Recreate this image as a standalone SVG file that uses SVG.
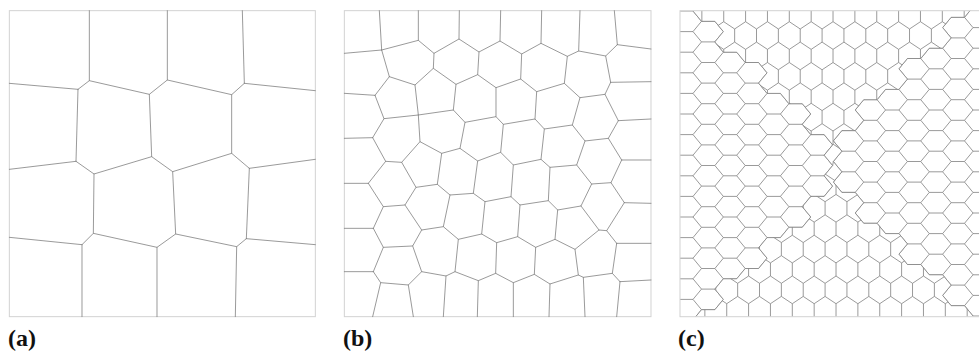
<svg xmlns="http://www.w3.org/2000/svg" width="979" height="354" viewBox="0 0 979 354">
<defs>
<style>
.cell{fill:none;stroke:#808080;stroke-width:2.4;stroke-linejoin:round;stroke-linecap:round}
.frame{fill:none;stroke:#d2d2d2;stroke-width:3}
.frame1{fill:none;stroke:#d2d2d2;stroke-width:1}
.hx{fill:none;stroke:#808080;stroke-width:0.8;stroke-linejoin:round}
.lab{font-family:"Liberation Serif","Times New Roman",serif;font-weight:bold;font-size:24px;fill:#111}
</style>
<path id="prow" class="hx" d="M-21.86 0l10.93 7.27v13.13m0 -13.13l10.93 -7.27l10.93 7.27v13.13m0 -13.13l10.93 -7.27l10.93 7.27v13.13m0 -13.13l10.93 -7.27l10.93 7.27v13.13m0 -13.13l10.93 -7.27l10.93 7.27v13.13m0 -13.13l10.93 -7.27l10.93 7.27v13.13m0 -13.13l10.93 -7.27l10.93 7.27v13.13m0 -13.13l10.93 -7.27l10.93 7.27v13.13m0 -13.13l10.93 -7.27l10.93 7.27v13.13m0 -13.13l10.93 -7.27l10.93 7.27v13.13m0 -13.13l10.93 -7.27l10.93 7.27v13.13m0 -13.13l10.93 -7.27l10.93 7.27v13.13m0 -13.13l10.93 -7.27l10.93 7.27v13.13m0 -13.13l10.93 -7.27l10.93 7.27v13.13m0 -13.13l10.93 -7.27l10.93 7.27v13.13m0 -13.13l10.93 -7.27l10.93 7.27v13.13m0 -13.13l10.93 -7.27l10.93 7.27v13.13m0 -13.13l10.93 -7.27"/>
<path id="fcol" class="hx" d="M0 -20.6l8.5 10.3h13.36m-13.36 0l-8.5 10.3l8.5 10.3h13.36m-13.36 0l-8.5 10.3l8.5 10.3h13.36m-13.36 0l-8.5 10.3l8.5 10.3h13.36m-13.36 0l-8.5 10.3l8.5 10.3h13.36m-13.36 0l-8.5 10.3l8.5 10.3h13.36m-13.36 0l-8.5 10.3l8.5 10.3h13.36m-13.36 0l-8.5 10.3l8.5 10.3h13.36m-13.36 0l-8.5 10.3l8.5 10.3h13.36m-13.36 0l-8.5 10.3l8.5 10.3h13.36m-13.36 0l-8.5 10.3l8.5 10.3h13.36m-13.36 0l-8.5 10.3l8.5 10.3h13.36m-13.36 0l-8.5 10.3l8.5 10.3h13.36m-13.36 0l-8.5 10.3l8.5 10.3h13.36m-13.36 0l-8.5 10.3l8.5 10.3h13.36m-13.36 0l-8.5 10.3l8.5 10.3h13.36m-13.36 0l-8.5 10.3l8.5 10.3h13.36m-13.36 0l-8.5 10.3"/>
<clipPath id="cT"><polygon points="693,10.7 969.95,10.7 964.5,17.3 951.14,17.3 942.64,27.6 951.14,37.9 942.64,48.2 929.28,48.2 920.78,58.5 907.42,58.5 898.92,68.8 907.42,79.1 898.92,89.4 885.56,89.4 877.06,99.7 863.7,99.7 855.2,110 863.7,120.3 855.2,130.6 841.84,130.6 833.34,140.9 841.84,151.2 833.34,161.5 832.66,165.5 824.16,155.2 832.66,144.9 824.16,134.6 810.8,134.6 802.3,124.3 810.8,114 802.3,103.7 788.94,103.7 780.44,93.4 767.08,93.4 758.58,83.1 767.08,72.8 758.58,62.5 745.22,62.5 736.72,52.2 723.36,52.2 714.86,41.9 723.36,31.6 714.86,21.3 701.5,21.3 693,11"/></clipPath>
<clipPath id="cL"><polygon points="680,10.7 693,10.7 693,11 701.5,21.3 714.86,21.3 723.36,31.6 714.86,41.9 723.36,52.2 736.72,52.2 745.22,62.5 758.58,62.5 767.08,72.8 758.58,83.1 767.08,93.4 780.44,93.4 788.94,103.7 802.3,103.7 810.8,114 802.3,124.3 810.8,134.6 824.16,134.6 832.66,144.9 824.16,155.2 832.66,165.5 824.16,175.8 832.66,186.1 824.16,196.4 810.8,196.4 802.3,206.7 810.8,217 802.3,227.3 788.94,227.3 780.44,237.6 767.08,237.6 758.58,247.9 767.08,258.2 758.58,268.5 745.22,268.5 736.72,278.8 723.36,278.8 714.86,289.1 723.36,299.4 714.86,309.7 701.5,309.7 695.72,316.7 680,316.7"/></clipPath>
<clipPath id="cR"><polygon points="969.95,10.7 986,10.7 986,316.7 973,316.7 973,316 964.5,305.7 951.14,305.7 942.64,295.4 951.14,285.1 942.64,274.8 929.28,274.8 920.78,264.5 907.42,264.5 898.92,254.2 907.42,243.9 898.92,233.6 885.56,233.6 877.06,223.3 863.7,223.3 855.2,213 863.7,202.7 855.2,192.4 841.84,192.4 833.34,182.1 841.84,171.8 833.34,161.5 841.84,151.2 833.34,140.9 841.84,130.6 855.2,130.6 863.7,120.3 855.2,110 863.7,99.7 877.06,99.7 885.56,89.4 898.92,89.4 907.42,79.1 898.92,68.8 907.42,58.5 920.78,58.5 929.28,48.2 942.64,48.2 951.14,37.9 942.64,27.6 951.14,17.3 964.5,17.3"/></clipPath>
<clipPath id="cB"><polygon points="695.72,316.7 701.5,309.7 714.86,309.7 723.36,299.4 714.86,289.1 723.36,278.8 736.72,278.8 745.22,268.5 758.58,268.5 767.08,258.2 758.58,247.9 767.08,237.6 780.44,237.6 788.94,227.3 802.3,227.3 810.8,217 802.3,206.7 810.8,196.4 824.16,196.4 832.66,186.1 824.16,175.8 832.66,165.5 833.34,161.5 841.84,171.8 833.34,182.1 841.84,192.4 855.2,192.4 863.7,202.7 855.2,213 863.7,223.3 877.06,223.3 885.56,233.6 898.92,233.6 907.42,243.9 898.92,254.2 907.42,264.5 920.78,264.5 929.28,274.8 942.64,274.8 951.14,285.1 942.64,295.4 951.14,305.7 964.5,305.7 973,316 973,316.7"/></clipPath>
<clipPath id="cF"><rect x="680" y="10.7" width="306" height="306"/></clipPath>
</defs>
<rect width="979" height="354" fill="#fff"/>

<g id="panel-a" transform="scale(0.333333)">
<rect class="frame" x="28" y="32" width="918" height="918"/>
<path class="cell" d="M268 32L268 242M502 32L502 240M727 32L733 250
M28 250L234 268M28 508L228 484M28 712L246 734
M733 250L946 272M748 505L946 478M739 716L946 734
M246 734L246 950M471 742L471 950M710 740L706 950
M234 268L268 242L448 283L502 240L695 284L733 250
M228 484L282 522L455 470L518 515L695 460L748 505
M246 734L280 700L471 742L527 702L710 740L739 716
M234 268L228 484M448 283L455 470M695 284L695 460M282 522L280 700M518 515L527 702M748 505L739 716"/>
</g>

<g id="panel-b" transform="translate(335 0) scale(0.333333)">
<rect class="frame" x="28" y="32" width="920" height="918"/>
<path class="cell" d="M133 32L140 150M250 32L250 121M373 32L372 117M497 32L495 123M620 32L618 130M735 32L731 153M838 32L847 134
M28 160L140 150M28 280L120 286M28 415L113 413M28 550L100 550M28 685L115 685M28 815L115 815
M847 134L948 147M827 247L948 245M850 362L948 357M860 480L948 480M868 608L948 610M845 730L948 730M855 845L948 840
M137 848L113 950M220 855L235 950M333 828L325 950M430 842L427 950M535 848L535 950M645 852L642 950M745 832L750 950M855 845L845 950
M140 150L250 121L297 160L372 117L432 156L495 123L560 162L618 130L697 169L731 153L812 168L847 134
M163 230L240 255L295 205L363 253L428 224L483 263L557 237L605 275L688 250L735 293L810 283L827 247
M140 150L163 230M297 160L295 205M432 156L428 224M560 162L557 237M697 169L688 250M812 168L827 247
M163 230L120 286M240 255L250 345M363 253L355 330M483 263L483 350M605 275L600 357M735 293L712 375M810 283L850 362
M120 286L147 356L250 345L355 330L390 367L483 350L505 373L600 357L628 387L712 375L750 423L820 415L850 362
M147 356L113 413M250 345L255 425M390 367L375 445M505 373L497 457M628 387L618 478
M113 413L152 484L200 487L255 425L320 460L375 445L428 483L497 457L535 495L618 478L645 502L725 495L750 423
M820 415L860 480
M152 484L100 550M200 487L243 562M320 460L307 553M428 483L415 580M535 495L528 590M645 502L640 602M725 495L770 552M860 480L828 548
M100 550L145 620L210 615L243 562L307 553L345 585L415 580L450 605L528 590L555 615L640 602L668 630L738 618L770 552L828 548L868 608
M145 620L115 685M210 615L260 690M345 585L325 680M450 605L440 702M555 615L548 710M668 630L660 718M738 618L792 690M868 608L815 692
M115 685L145 742L233 738L260 690L325 680L370 718L440 702L485 728L548 710L602 742L660 718L720 748L792 690L815 692L845 730
M145 742L115 815M233 738L260 815M370 718L360 815M485 728L482 820M602 742L598 823M720 748L730 825M845 730L832 820
M115 815L137 848L220 855L260 815L333 828L360 815L430 842L482 820L535 848L598 823L645 852L730 825L745 832L832 820L855 845"/>
</g>

<g id="panel-c">
<g clip-path="url(#cT)">
<use href="#prow" x="690.93" y="1.3"/>
<use href="#prow" x="680" y="21.7"/>
<use href="#prow" x="690.93" y="42.1"/>
<use href="#prow" x="680" y="62.5"/>
<use href="#prow" x="690.93" y="82.9"/>
<use href="#prow" x="680" y="103.3"/>
<use href="#prow" x="690.93" y="123.7"/>
<use href="#prow" x="680" y="144.1"/>
<use href="#prow" x="690.93" y="164.5"/>
</g>
<g clip-path="url(#cB)">
<use href="#prow" x="683" y="153.63"/>
<use href="#prow" x="672.07" y="174.03"/>
<use href="#prow" x="683" y="194.43"/>
<use href="#prow" x="672.07" y="214.83"/>
<use href="#prow" x="683" y="235.23"/>
<use href="#prow" x="672.07" y="255.63"/>
<use href="#prow" x="683" y="276.03"/>
<use href="#prow" x="672.07" y="296.43"/>
</g>
<g clip-path="url(#cL)">
<use href="#fcol" x="671.14" y="0.7"/>
<use href="#fcol" x="693" y="11"/>
<use href="#fcol" x="714.86" y="0.7"/>
<use href="#fcol" x="736.72" y="11"/>
<use href="#fcol" x="758.58" y="0.7"/>
<use href="#fcol" x="780.44" y="11"/>
<use href="#fcol" x="802.3" y="0.7"/>
<use href="#fcol" x="824.16" y="11"/>
</g>
<g clip-path="url(#cR)">
<use href="#fcol" x="964.5" y="17.3"/>
<use href="#fcol" x="942.64" y="7"/>
<use href="#fcol" x="920.78" y="17.3"/>
<use href="#fcol" x="898.92" y="7"/>
<use href="#fcol" x="877.06" y="17.3"/>
<use href="#fcol" x="855.2" y="7"/>
<use href="#fcol" x="833.34" y="17.3"/>
<use href="#fcol" x="811.48" y="7"/>
</g>
<path class="hx" clip-path="url(#cF)" d="M693 11L701.5 21.3L714.86 21.3L723.36 31.6L714.86 41.9L723.36 52.2L736.72 52.2L745.22 62.5L758.58 62.5L767.08 72.8L758.58 83.1L767.08 93.4L780.44 93.4L788.94 103.7L802.3 103.7L810.8 114L802.3 124.3L810.8 134.6L824.16 134.6L832.66 144.9L824.16 155.2L832.66 165.5
M693 320L701.5 309.7L714.86 309.7L723.36 299.4L714.86 289.1L723.36 278.8L736.72 278.8L745.22 268.5L758.58 268.5L767.08 258.2L758.58 247.9L767.08 237.6L780.44 237.6L788.94 227.3L802.3 227.3L810.8 217L802.3 206.7L810.8 196.4L824.16 196.4L832.66 186.1L824.16 175.8L832.66 165.5
M973 7L964.5 17.3L951.14 17.3L942.64 27.6L951.14 37.9L942.64 48.2L929.28 48.2L920.78 58.5L907.42 58.5L898.92 68.8L907.42 79.1L898.92 89.4L885.56 89.4L877.06 99.7L863.7 99.7L855.2 110L863.7 120.3L855.2 130.6L841.84 130.6L833.34 140.9L841.84 151.2L833.34 161.5
M973 316L964.5 305.7L951.14 305.7L942.64 295.4L951.14 285.1L942.64 274.8L929.28 274.8L920.78 264.5L907.42 264.5L898.92 254.2L907.42 243.9L898.92 233.6L885.56 233.6L877.06 223.3L863.7 223.3L855.2 213L863.7 202.7L855.2 192.4L841.84 192.4L833.34 182.1L841.84 171.8L833.34 161.5
M832.66 165.5L833.34 161.5"/>
<rect class="frame1" x="680" y="10.7" width="306" height="306"/>
</g>

<g id="labels">
<text class="lab" x="8" y="346">(a)</text>
<text class="lab" x="343" y="346">(b)</text>
<text class="lab" x="678" y="346">(c)</text>
</g>
</svg>
